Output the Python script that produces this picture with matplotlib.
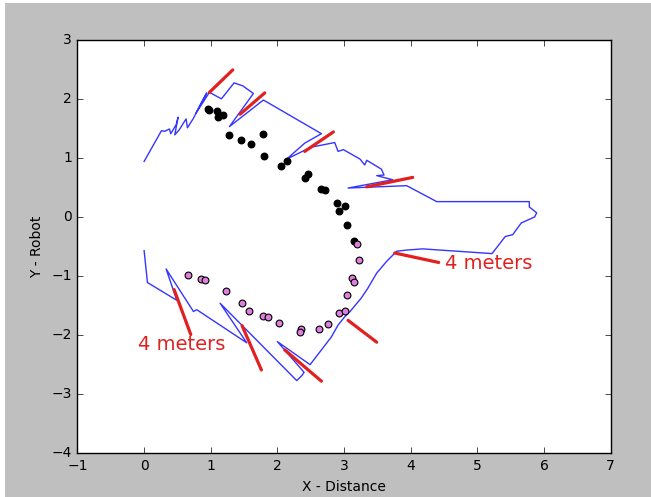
import numpy as np
import matplotlib.pyplot as plt
from matplotlib.patches import Rectangle

plt.style.use('classic')

# wall outline from the laser scan
wall_x = [0.00, 0.26, 0.31, 0.38, 0.40, 0.48, 0.51, 0.46, 0.53, 0.59, 0.63, 0.65, 0.74, 0.83,
          0.89, 0.94, 0.78, 0.98, 1.16, 1.35, 1.48, 1.64, 1.28, 1.79, 2.66, 2.41, 2.14, 2.50,
          2.86, 2.91, 2.99, 3.24, 3.31, 3.34, 3.56, 3.60, 3.49, 3.73, 3.06, 3.94, 4.39, 5.78,
          5.78, 5.89, 5.86, 5.66, 5.53, 5.42, 5.22, 4.18, 3.94, 3.79, 3.64, 3.49, 3.36, 3.26,
          3.09, 3.01, 2.91, 2.81, 2.64, 2.49, 2.00, 2.40, 2.37, 2.29, 1.14, 1.54, 0.79, 0.74,
          0.33, 0.49, 0.05, 0.00]
wall_y = [0.94, 1.46, 1.45, 1.49, 1.41, 1.56, 1.69, 1.39, 1.48, 1.59, 1.66, 1.51, 1.67, 1.87,
          2.00, 2.10, 1.76, 2.11, 2.00, 2.27, 2.22, 2.09, 1.53, 1.98, 1.41, 1.25, 0.98, 1.18,
          1.26, 1.11, 1.14, 0.98, 0.88, 0.96, 0.81, 0.71, 0.70, 0.63, 0.49, 0.53, 0.26, 0.26,
          0.17, 0.07, 0.00, -0.10, -0.30, -0.33, -0.62, -0.54, -0.56, -0.58, -0.75, -0.95, -1.20, -1.37,
          -1.60, -1.69, -1.83, -2.03, -2.28, -2.50, -2.11, -2.63, -2.68, -2.77, -1.46, -2.13, -1.57, -1.60,
          -0.88, -1.41, -1.11, -0.57]

# robot path, first pass (black) and second pass (violet)
path1_x = [0.96, 0.98, 1.09, 1.11, 1.18, 1.27, 1.46, 1.60, 1.78, 1.80, 2.05, 2.14, 2.42, 2.46,
           2.66, 2.72, 2.89, 2.93, 3.02, 3.04, 3.15]
path1_y = [1.83, 1.81, 1.79, 1.69, 1.73, 1.38, 1.31, 1.24, 1.40, 1.04, 0.86, 0.95, 0.66, 0.73,
           0.47, 0.45, 0.24, 0.10, 0.18, -0.13, -0.41]
path2_x = [0.66, 0.86, 0.91, 1.23, 1.47, 1.58, 1.78, 1.86, 2.02, 2.35, 2.34, 2.62, 2.76, 2.93,
           3.01, 3.04, 3.12, 3.15, 3.22, 3.19]
path2_y = [-0.99, -1.05, -1.06, -1.26, -1.46, -1.59, -1.67, -1.70, -1.79, -1.89, -1.94, -1.90, -1.81, -1.63,
           -1.59, -1.32, -1.04, -1.10, -0.73, -0.46]

# red range segments
seg_x0 = [0.98, 1.44, 2.41, 3.34, 3.76, 3.06, 2.11, 0.45, 1.47]
seg_y0 = [2.11, 1.74, 1.11, 0.51, -0.61, -1.75, -2.25, -1.23, -1.84]
seg_x1 = [1.33, 1.81, 2.84, 4.03, 4.42, 3.49, 2.66, 0.70, 1.76]
seg_y1 = [2.49, 2.10, 1.44, 0.67, -0.77, -2.12, -2.78, -1.99, -2.59]

labels = ["4 meters", "4 meters"]
label_x = [0.56, 5.17]
label_y = [-2.16, -0.79]

fig = plt.figure(figsize=(6.51, 4.97), dpi=100, facecolor='#bfbfbf')
ax = fig.add_axes([0.119, 0.088, 0.819, 0.832])

ax.plot(wall_x, wall_y, color='#3535ff', lw=1.0)
for i in range(len(seg_x0)):
    ax.plot([seg_x0[i], seg_x1[i]], [seg_y0[i], seg_y1[i]], color='#e32020', lw=2.3,
            solid_capstyle='round')
ax.scatter(path1_x, path1_y, s=22, c='black', edgecolors='black', zorder=3)
ax.scatter(path2_x, path2_y, s=24, c='#dd80dd', edgecolors='black', linewidths=0.8, zorder=3)

for t, x, y in zip(labels, label_x, label_y):
    ax.text(x, y, t, color='#e32020', fontsize=14, ha='center', va='center')

ax.set_xlim(-1, 7)
ax.set_ylim(-4, 3)
ax.set_xticks(np.arange(-1, 8, 1))
ax.set_yticks(np.arange(-4, 4, 1))
ax.tick_params(labelsize=10)
ax.set_xlabel("X - Distance", fontsize=10)
ax.set_ylabel("Y - Robot", fontsize=10)

# white screenshot border on the left and top
fig.add_artist(Rectangle((0, 0), 5 / 651, 1, transform=fig.transFigure, color='white', lw=0))
fig.add_artist(Rectangle((0, 1 - 3 / 497), 1, 3 / 497, transform=fig.transFigure, color='white', lw=0))

fig.savefig('out.png', dpi=100, facecolor=fig.get_facecolor())
